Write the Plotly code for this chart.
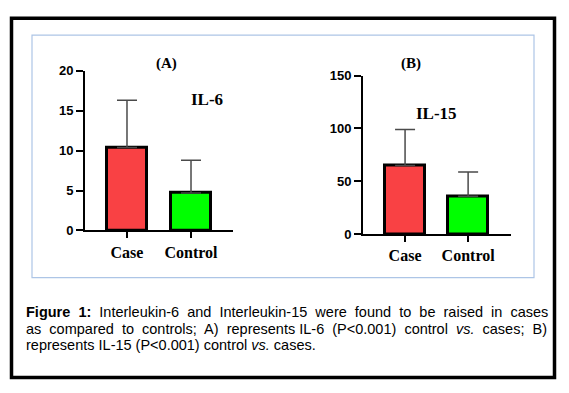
import plotly.graph_objects as go

W, H = 569, 393
OFF = 8  # default page body margin

categories = ["Case", "Control"]
il6_mean = [10.4, 4.7]
il6_sd = [5.9, 4.1]
il15_mean = [65, 36]
il15_sd = [34, 23]
bar_colors = ["#f94144", "#00ff00"]
il6_ticks = [0, 5, 10, 15, 20]
il15_ticks = [0, 50, 100, 150]


def px(x):
    return (x - OFF) / W


def py(y):
    return 1 - (y - OFF) / H


fig = go.Figure()

err_style = dict(type="data", symmetric=False, color="#4a4a4a", thickness=1.5, width=10)
fig.add_trace(go.Bar(
    x=categories, y=il6_mean, xaxis="x", yaxis="y", width=0.64,
    marker=dict(color=bar_colors, line=dict(color="black", width=3)),
    error_y=dict(array=il6_sd, arrayminus=[0, 0], **err_style),
    showlegend=False,
))
fig.add_trace(go.Bar(
    x=categories, y=il15_mean, xaxis="x2", yaxis="y2", width=0.63,
    marker=dict(color=bar_colors, line=dict(color="black", width=3)),
    error_y=dict(array=il15_sd, arrayminus=[0, 0], **err_style),
    showlegend=False,
))

num_font = dict(family="Liberation Sans", size=13, color="black", weight="bold")
cat_font = dict(family="Liberation Serif", size=16, color="black", weight="bold")

common_x = dict(showline=True, linecolor="black", linewidth=2, ticks="outside",
                ticklen=6, tickwidth=2, tickcolor="black", showgrid=False,
                zeroline=False, tickfont=cat_font, fixedrange=True)
common_y = dict(showline=True, linecolor="black", linewidth=2, ticks="outside",
                ticklen=7, tickwidth=2, tickcolor="black", showgrid=False,
                zeroline=False, tickfont=num_font, fixedrange=True)

fig.update_layout(
    width=W, height=H, margin=dict(l=0, r=0, t=0, b=0),
    paper_bgcolor="white", plot_bgcolor="white",
    bargap=0,
    xaxis=dict(domain=[px(85), px(233)], range=[-0.656, 1.656], anchor="y", **common_x),
    yaxis=dict(domain=[py(232), py(66)], range=[0, 20], tickvals=il6_ticks, anchor="x", **common_y),
    xaxis2=dict(domain=[px(363), px(511)], range=[-0.667, 1.68], anchor="y2", **common_x),
    yaxis2=dict(domain=[py(236), py(71)], range=[0, 150], tickvals=il15_ticks, anchor="x2", **common_y),
)

shapes = [
    dict(type="rect", xref="paper", yref="paper", x0=px(11.5), x1=px(554.5), y0=py(385), y1=py(11.5),
         line=dict(color="black", width=3.5), fillcolor="rgba(0,0,0,0)", layer="below"),
    dict(type="rect", xref="paper", yref="paper", x0=px(32), x1=px(534), y0=py(281), y1=py(29),
         line=dict(color="#adc5e6", width=1.2), fillcolor="rgba(0,0,0,0)", layer="below"),
]
fig.update_layout(shapes=shapes)

title_font = dict(family="Liberation Serif", size=15, color="black", weight="bold")
label_font = dict(family="Liberation Serif", size=17, color="black", weight="bold")
annotations = [
    dict(text="(A)", x=px(154), y=py(48), xref="paper", yref="paper", showarrow=False, font=title_font),
    dict(text="IL-6", x=px(189), y=py(84), xref="paper", yref="paper", showarrow=False, font=label_font),
    dict(text="(B)", x=px(423), y=py(48), xref="paper", yref="paper", showarrow=False, font=title_font),
    dict(text="IL-15", x=px(459), y=py(98), xref="paper", yref="paper", showarrow=False, font=label_font),
]

cap_font = dict(family="Liberation Sans", size=14.5, color="black")
line1_words = ["<b>Figure</b>", "<b>1:</b>", "Interleukin-6", "and", "Interleukin-15", "were",
               "found", "to", "be", "raised", "in", "cases"]
line2_words = ["as", "compared", "to", "controls;", "A)", "represents", "IL-6", "(P&lt;0.001)",
               "control", "<i>vs.</i>", "cases;", "B)"]
line3_words = ["represents", "IL-15", "(P&lt;0.001)", "control", "<i>vs.</i>", "cases."]
# extra spaces per gap to imitate justified text
line1_pad = [1] * 11
line2_pad = [1, 1, 1, 1, 1, 0, 1, 1, 1, 1, 1]
line3_pad = [0] * 5


def join(words, pads):
    out = words[0]
    for w, p in zip(words[1:], pads):
        out += " " * (1 + p) + w
    return out


caption_lines = [join(line1_words, line1_pad), join(line2_words, line2_pad), join(line3_words, line3_pad)]
caption_y = [317, 334, 351]
for line, yy in zip(caption_lines, caption_y):
    annotations.append(dict(text=line, x=px(24), y=py(yy), xref="paper", yref="paper",
                            xanchor="left", yanchor="middle", showarrow=False, font=cap_font))
fig.update_layout(annotations=annotations)

fig.write_html("out.html")
